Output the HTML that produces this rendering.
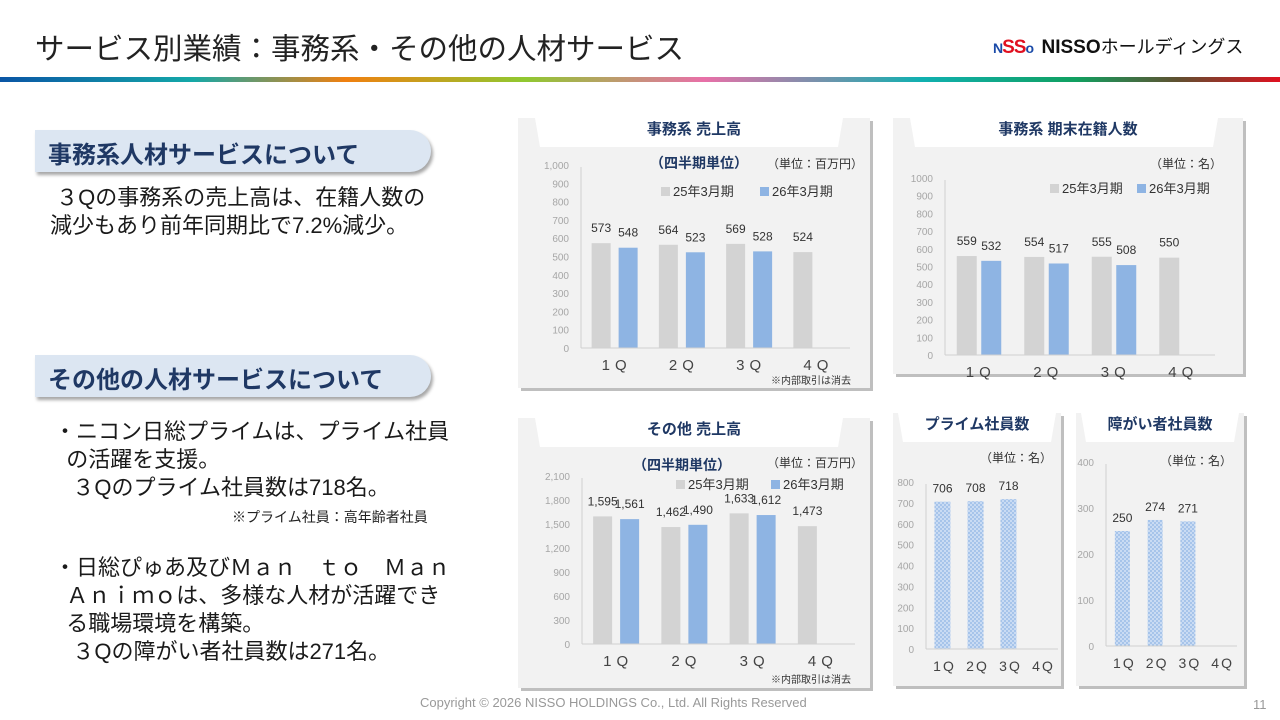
<!DOCTYPE html>
<html><head><meta charset="utf-8">
<style>
body{margin:0;width:1280px;height:720px;background:#fff;position:relative;overflow:hidden;font-family:"Liberation Sans","Noto Sans CJK JP",sans-serif;color:#222}
.abs{position:absolute;white-space:nowrap}
.pill{position:absolute;left:35px;width:396px;height:42px;background:#dce6f2;border-radius:0 22px 22px 0;box-shadow:2px 3px 3px rgba(0,0,0,.35)}
.pill span{position:absolute;left:13px;top:5px;font-size:24px;font-weight:bold;color:#1f3864}
.body{font-size:22px;color:#1a1a1a;line-height:28px}
</style></head><body>
<div class="abs" style="left:35px;top:26px;font-size:29.5px;color:#222">サービス別業績：事務系・その他の人材サービス</div>
<div class="abs" style="left:993px;top:33px;height:24px">
 <span style="font-size:14px;font-weight:bold;color:#1a4aa8;letter-spacing:-1px">N<span style="font-size:19px;color:#e01020">SS</span>o</span>
 <span style="font-size:19px;font-weight:bold;color:#111;margin-left:4px">NISSO</span><span style="font-size:18px;color:#111">ホールディングス</span>
</div>
<div class="abs" style="left:0;top:77px;width:1280px;height:5px;background:linear-gradient(90deg,#0a55a5 0%,#14a8a8 15%,#f08010 27%,#90c830 41%,#e870a8 55%,#10b0b0 72%,#10a060 84%,#605030 92%,#e01020 100%)"></div>

<div class="pill" style="top:130px"><span>事務系人材サービスについて</span></div>
<div class="abs body" style="left:50px;top:184px">&nbsp;３Qの事務系の売上高は、在籍人数の<br>減少もあり前年同期比で7.2%減少。</div>

<div class="pill" style="top:355px"><span>その他の人材サービスについて</span></div>
<div class="abs body" style="left:54px;top:418px">・ニコン日総プライムは、プライム社員<br>&nbsp;&nbsp;の活躍を支援。<br>&nbsp;&nbsp;&nbsp;３Qのプライム社員数は718名。</div>
<div class="abs" style="left:232px;top:507px;font-size:14px;color:#222">※プライム社員：高年齢者社員</div>
<div class="abs body" style="left:54px;top:554px">・日総ぴゅあ及びＭａｎ　ｔｏ　Ｍａｎ<br>&nbsp;&nbsp;Ａｎｉｍｏは、多様な人材が活躍でき<br>&nbsp;&nbsp;る職場環境を構築。<br>&nbsp;&nbsp;&nbsp;３Qの障がい者社員数は271名。</div>

<div class="abs" style="left:420px;top:695px;font-size:13px;color:#999">Copyright © 2026 NISSO HOLDINGS Co., Ltd. All Rights Reserved</div>
<div class="abs" style="left:1253px;top:697px;font-size:13px;color:#999">11</div>

<svg id="charts" width="1280" height="720" style="position:absolute;left:0;top:0">
<defs>
<pattern id="dots" width="4" height="4" patternUnits="userSpaceOnUse">
<rect width="4" height="4" fill="#c9dbf3"/><circle cx="1" cy="1" r="0.9" fill="#8eb4e3"/><circle cx="3" cy="3" r="0.9" fill="#8eb4e3"/>
</pattern>
</defs>
</svg>
<script>
const quarters=['1Q','2Q','3Q','4Q'];
const salesPrev=[573,564,569,524];
const salesCur=[548,523,528];
const salesTicks=[0,100,200,300,400,500,600,700,800,900,1000];
const headPrev=[559,554,555,550];
const headCur=[532,517,508];
const headTicks=[0,100,200,300,400,500,600,700,800,900,1000];
const otherPrev=[1595,1462,1633,1473];
const otherCur=[1561,1490,1612];
const otherTicks=[0,300,600,900,1200,1500,1800,2100];
const prime=[706,708,718];
const primeTicks=[0,100,200,300,400,500,600,700,800];
const disabled=[250,274,271];
const disabledTicks=[0,100,200,300,400];

const svg=document.getElementById('charts');
const NS='http://www.w3.org/2000/svg';
function mk(tag,attrs,txt){const e=document.createElementNS(NS,tag);for(const k in attrs)e.setAttribute(k,attrs[k]);if(txt!==undefined)e.textContent=txt;svg.appendChild(e);return e;}
function fmt(v,comma){return comma?v.toLocaleString('en-US'):String(v);}

function panel(name,x,y,w,h,title,tabL,tabR){
  const s=mk('rect',{x:x+3,y:y+3,width:w,height:h,fill:'#bfbfbf'});
  
  
  const p=mk('rect',{x:x,y:y,width:w,height:h,fill:'#f2f2f2'});
  
  
  const t=mk('polygon',{points:`${x+tabL-5},${y} ${x+w-tabR+5},${y} ${x+w-tabR},${y+29} ${x+tabL},${y+29}`,fill:'#fff'});
  
  
  const tt=mk('text',{x:x+w/2,y:y+16,'text-anchor':'middle','font-size':15,'font-weight':'bold',fill:'#1f3864'},title);
  
  
}

function chart(c){
  const yS=v=>c.base-(v/c.max)*(c.base-c.top);
  const gw=(c.right-c.ax)/quarters.length;
  const xC=i=>c.ax+gw*(i+0.5);
  c.ticks.forEach(t=>{
    const e=mk('text',{x:c.ax-12,y:yS(t)+4,'text-anchor':'end','font-size':10,fill:'#a6a6a6'},fmt(t,c.comma));
    
    
  });
  const ya=mk('line',{x1:c.ax,y1:c.top+2,x2:c.ax,y2:c.base,stroke:'#d0d0d0'});
  
  
  const series=c.series;
  series.forEach((s,si)=>{
    s.data.forEach((v,i)=>{
      const cx=xC(i)+s.off;
      const b=mk('rect',{x:cx-c.bw/2,y:yS(v),width:c.bw,height:c.base-yS(v),fill:s.fill});
      
      
      const l=mk('text',{x:cx,y:yS(v)-(c.lab||11),'text-anchor':'middle','font-size':12,fill:'#333'},fmt(v,c.comma));
      
      
    });
  });
  const xa=mk('line',{x1:c.ax,y1:c.base,x2:c.right,y2:c.base,stroke:'#d0d0d0'});
  
  
  quarters.forEach((q,i)=>{
    const e=mk('text',{x:xC(i)+2,y:c.base+22,'text-anchor':'middle','font-size':c.qs||15,fill:'#444','letter-spacing':c.ls||5},q);
    
    
  });
}
function txt(name,x,y,s,opt){
  const e=mk('text',Object.assign({x:x,y:y,'font-size':12,fill:'#333'},opt||{}),s);
  
  
}
function legend(x,y,gx){
  const a=mk('rect',{x:x,y:y-9,width:9,height:9,fill:'#d3d3d3'});
  
  
  txt('legend-label-prev',x+12,y,'25年3月期',{'font-size':13});
  const b=mk('rect',{x:x+gx,y:y-9,width:9,height:9,fill:'#8eb4e3'});
  
  
  txt('legend-label-cur',x+gx+12,y,'26年3月期',{'font-size':13});
}

// Panel 1
panel('office-sales',518,118,352,270,'事務系 売上高',22,32);
txt('period-subtitle',650,168,'（四半期単位）',{'font-size':14,'font-weight':'bold',fill:'#1f3864'});
txt('unit-label',767,168,'（単位：百万円）',{'font-size':12});
legend(661,196,99);
chart({name:'office-sales',ax:581,right:850,base:348,top:165,max:1000,ticks:salesTicks,bw:19,comma:true,
  series:[{key:'prev',data:salesPrev,fill:'#d3d3d3',off:-13.5},{key:'cur',data:salesCur,fill:'#8eb4e3',off:13.5}]});
txt('elimination-note',771,384,'※内部取引は消去',{'font-size':10});

// Panel 2
panel('office-headcount',893,118,350,256,'事務系 期末在籍人数',22,30);
txt('unit-label',1150,168,'（単位：名）',{'font-size':12});
legend(1050,193,87);
chart({name:'office-headcount',ax:945,right:1215,base:355,top:178,max:1000,ticks:headTicks,bw:20,comma:false,
  series:[{key:'prev',data:headPrev,fill:'#d3d3d3',off:-12},{key:'cur',data:headCur,fill:'#8eb4e3',off:12.5}]});

// Panel 3
panel('other-sales',518,418,352,270,'その他 売上高',22,32);
txt('period-subtitle',633,470,'（四半期単位）',{'font-size':14,'font-weight':'bold',fill:'#1f3864'});
txt('unit-label',767,467,'（単位：百万円）',{'font-size':12});
legend(676,489,95);
chart({name:'other-sales',ax:582,right:855,base:644,top:476,max:2100,ticks:otherTicks,bw:19,comma:true,
  series:[{key:'prev',data:otherPrev,fill:'#d3d3d3',off:-13.5},{key:'cur',data:otherCur,fill:'#8eb4e3',off:13.5}]});
txt('elimination-note',771,683,'※内部取引は消去',{'font-size':10});

// Panel 4
panel('prime-staff',893,413,168,273,'プライム社員数',10,10);
txt('unit-label',980,462,'（単位：名）',{'font-size':12});
chart({name:'prime-staff',ax:926,right:1058,base:649,top:482,max:800,ticks:primeTicks,bw:16,comma:false,lab:9,qs:14,ls:2,
  series:[{key:'cur',data:prime,fill:'url(#dots)',off:0}]});

// Panel 5
panel('disabled-staff',1076,413,168,273,'障がい者社員数',10,10);
txt('unit-label',1160,465,'（単位：名）',{'font-size':12});
chart({name:'disabled-staff',ax:1106,right:1237,base:646,top:462,max:400,ticks:disabledTicks,bw:15,comma:false,lab:9,qs:14,ls:2,
  series:[{key:'cur',data:disabled,fill:'url(#dots)',off:0}]});
</script>
</body></html>
